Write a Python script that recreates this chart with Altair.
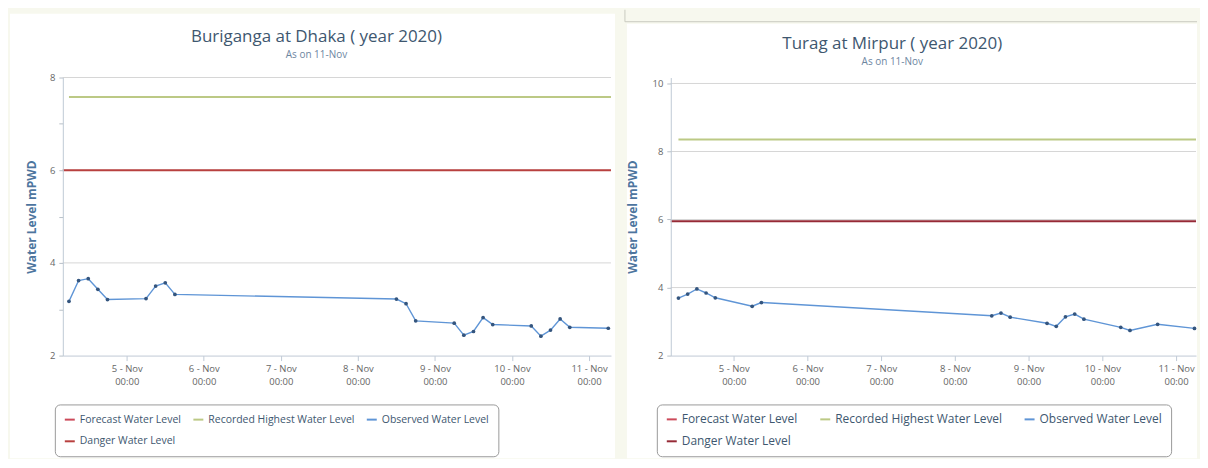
import altair as alt
import pandas as pd

# ---------------- data ----------------
series_names = ["Forecast Water Level", "Recorded Highest Water Level",
                "Observed Water Level", "Danger Water Level"]

buri_times = ["2020-11-04T06:00:00", "2020-11-04T09:00:00", "2020-11-04T12:00:00",
              "2020-11-04T15:00:00", "2020-11-04T18:00:00", "2020-11-05T06:00:00",
              "2020-11-05T09:00:00", "2020-11-05T12:00:00", "2020-11-05T15:00:00",
              "2020-11-08T12:00:00", "2020-11-08T15:00:00", "2020-11-08T18:00:00",
              "2020-11-09T06:00:00", "2020-11-09T09:00:00", "2020-11-09T12:00:00",
              "2020-11-09T15:00:00", "2020-11-09T18:00:00", "2020-11-10T06:00:00",
              "2020-11-10T09:00:00", "2020-11-10T12:00:00", "2020-11-10T15:00:00",
              "2020-11-10T18:00:00", "2020-11-11T06:00:00"]
buri_levels = [3.17, 3.62, 3.66, 3.43, 3.21, 3.23, 3.50, 3.57, 3.32,
               3.22, 3.12, 2.75, 2.70, 2.44, 2.52, 2.82, 2.67,
               2.64, 2.42, 2.55, 2.79, 2.61, 2.59]
buri_danger = 6.00
buri_highest = 7.58
buri_grid = [4, 6, 8]

turag_times = ["2020-11-04T06:00:00", "2020-11-04T09:00:00", "2020-11-04T12:00:00",
               "2020-11-04T15:00:00", "2020-11-04T18:00:00", "2020-11-05T06:00:00",
               "2020-11-05T09:00:00", "2020-11-08T12:00:00", "2020-11-08T15:00:00",
               "2020-11-08T18:00:00", "2020-11-09T06:00:00", "2020-11-09T09:00:00",
               "2020-11-09T12:00:00", "2020-11-09T15:00:00", "2020-11-09T18:00:00",
               "2020-11-10T06:00:00", "2020-11-10T09:00:00", "2020-11-10T18:00:00",
               "2020-11-11T06:00:00"]
turag_levels = [3.69, 3.81, 3.96, 3.84, 3.70, 3.45, 3.56, 3.17, 3.25, 3.13,
                2.95, 2.86, 3.14, 3.22, 3.07, 2.83, 2.74, 2.92, 2.80]
turag_danger = 5.95
turag_highest = 8.35
turag_grid = [4, 6, 8, 10]

tick_days = [5, 6, 7, 8, 9, 10, 11]

# ---------------- styles ----------------
FONT = "Open Sans"
BG = "#f7f8ee"
TITLE_C = "#3E576F"
SUB_C = "#6D869F"
AXT_C = "#4d759e"
LAB_C = "#666666"
GRID_C = "#d6d6d6"
LINE_C = "#c0cad6"
OBS_C = "#5f95d6"
PT_C = "#34557e"
FC_C = "#cc4a5a"
HI_C = "#bcc985"

dummy = pd.DataFrame({"k": [0]})


def panel(title, times, levels, danger, highest, ymax, ytop, grid_vals, danger_c,
          w, h, x0, x1, tdx, toff, ytitle_pad, legx, legy, legfs, colpad, deco):
    obs = pd.DataFrame({"t": times, "v": levels,
                        "series": "Observed Water Level"})
    thr = pd.DataFrame({
        "t": [x0.isoformat(), x1.isoformat(), times[0], x1.isoformat()],
        "v": [danger, danger, highest, highest],
        "series": ["Danger Water Level", "Danger Water Level",
                   "Recorded Highest Water Level", "Recorded Highest Water Level"],
    })
    grid = pd.DataFrame({"g": grid_vals})
    xscale = alt.Scale(domain=[alt.DateTime(year=x0.year, month=x0.month, date=x0.day,
                                            hours=x0.hour, minutes=x0.minute),
                               alt.DateTime(year=x1.year, month=x1.month, date=x1.day,
                                            hours=x1.hour, minutes=x1.minute)])
    yvals = [2 + 0.5 * i for i in range(int((ymax - 2) / 0.5) + 1)]
    xaxis = alt.Axis(
        values=[alt.DateTime(year=2020, month=11, date=d) for d in tick_days],
        labelExpr="[timeFormat(datum.value, '%-d - %b'), timeFormat(datum.value, '%H:%M')]",
        grid=False, title=None, domainColor=LINE_C, tickColor=LINE_C, tickSize=5,
        labelColor=LAB_C, labelFontSize=9.5, labelFont=FONT, labelPadding=3,
        labelLineHeight=13, zindex=1, labelFlush=False,
    )
    yaxis = alt.Axis(
        values=yvals,
        labelExpr="datum.value % 2 === 0 ? datum.label : ''",
        grid=False, domainColor=LINE_C, tickColor="#b8c0c8", tickSize=4,
        labelColor=LAB_C, labelFontSize=9.5, labelFont=FONT, labelPadding=4,
        title="Water Level mPWD", titleColor=AXT_C, titleFont=FONT, titleFontSize=12,
        titleFontWeight="bold", titlePadding=ytitle_pad, zindex=1,
    )
    yscale = alt.Scale(domain=[2, ytop], nice=False)

    color = alt.Color(
        "series:N",
        scale=alt.Scale(domain=series_names, range=[FC_C, HI_C, OBS_C, danger_c]),
        legend=alt.Legend(
            title=None, orient="none", legendX=legx, legendY=legy, columns=3,
            direction="horizontal", symbolType="stroke", symbolStrokeWidth=2,
            symbolSize=100, labelFont=FONT, labelFontSize=legfs, labelColor=TITLE_C,
            columnPadding=colpad, rowPadding=10, padding=9, strokeColor="#9a9a9a",
            cornerRadius=5, fillColor="white", labelOffset=4, labelLimit=400, zindex=1,
        ),
    )

    layers = list(deco)
    layers.append(
        alt.Chart(grid).mark_rule(color=GRID_C, strokeWidth=1).encode(
            y=alt.Y("g:Q", scale=yscale, axis=yaxis),
            x=alt.value(0), x2=alt.value(w),
        )
    )
    layers.append(
        alt.Chart(thr).mark_line(strokeWidth=2).encode(
            x=alt.X("t:T", scale=xscale, axis=xaxis),
            y=alt.Y("v:Q"),
            color=color, detail="series:N",
        )
    )
    layers.append(
        alt.Chart(obs).mark_line(strokeWidth=1.4).encode(
            x="t:T", y="v:Q", color=color,
        )
    )
    layers.append(
        alt.Chart(obs).mark_point(filled=True, size=14, opacity=1, color=PT_C).encode(
            x="t:T", y="v:Q",
        )
    )
    return alt.layer(*layers).properties(
        width=w, height=h,
        title=alt.TitleParams(
            text=title, subtitle="As on 11-Nov", anchor="middle", frame="bounds",
            font=FONT, fontSize=17, fontWeight="normal", color=TITLE_C,
            subtitleFont=FONT, subtitleFontSize=10, subtitleColor=SUB_C,
            subtitlePadding=4, offset=toff, dx=tdx,
        ),
    )


def rect(x, x2, y, y2, fill):
    return alt.Chart(dummy).mark_rect(fill=fill, strokeWidth=0).encode(
        x=alt.value(x), x2=alt.value(x2), y=alt.value(y), y2=alt.value(y2))


def rule(x, x2, y, y2):
    return alt.Chart(dummy).mark_rule(color="#c9cbc0", strokeWidth=1).encode(
        x=alt.value(x), x2=alt.value(x2), y=alt.value(y), y2=alt.value(y2))


# left panel: plot at image x 63..613, y 76..355
LW, LH = 550, 279
left_deco = [rect(-53, 554, -68, 382, BG), rect(-53, 554, -64, 382, "white")]
left = panel("Buriganga at Dhaka ( year 2020)", buri_times, buri_levels, buri_danger,
             buri_highest, 8, 8, buri_grid, "#b8403f", LW, LH,
             pd.Timestamp("2020-11-04T04:05"), pd.Timestamp("2020-11-11T06:50"),
             4, -51, 11, -8, 328, 10.5, 8, left_deco)

# right panel: plot at image x 672..1199, y 76..355 (value 10 sits at y 82)
RW, RH = 527, 279
right_deco = [rule(-46, -46, -68, -56), rule(-46, 528, -56, -56),
              rect(-44, 528, -54, 382, "white")]
right = panel("Turag at Mirpur ( year 2020)", turag_times, turag_levels, turag_danger,
              turag_highest, 10, 10.175, turag_grid, "#962a36", RW, RH,
              pd.Timestamp("2020-11-04T03:30"), pd.Timestamp("2020-11-11T06:30"),
              -20, -59, 13, -14, 328, 12, 18, right_deco)

chart = alt.hconcat(left, right, spacing=9).resolve_scale(
    color="independent", x="independent", y="independent"
).resolve_legend(color="independent").properties(
    background=BG, padding={"left": 2, "top": 0, "right": 0, "bottom": 0}
).configure_view(stroke=None)

chart.save("out.html", embed_options={"renderer": "svg", "actions": False})
